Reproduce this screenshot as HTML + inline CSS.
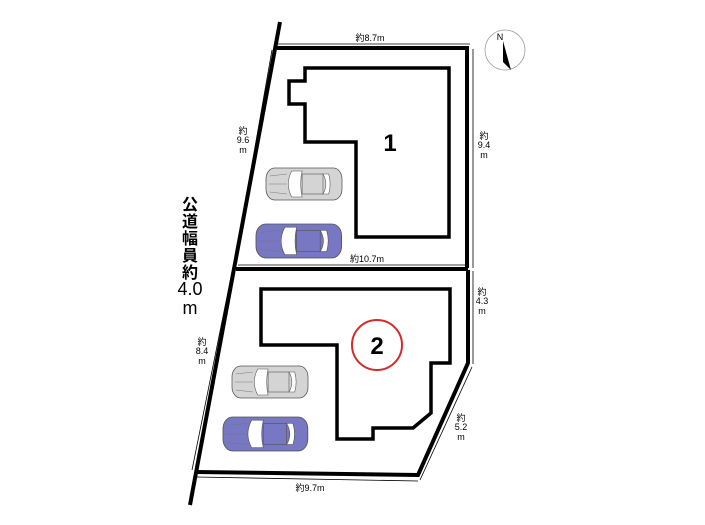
<!DOCTYPE html>
<html><head><meta charset="utf-8"><style>
html,body{margin:0;padding:0;background:#fff;width:705px;height:525px;overflow:hidden}
text{font-family:"Liberation Sans","Noto Sans CJK JP",sans-serif;fill:#000}
</style></head><body>
<svg width="705" height="525" viewBox="0 0 705 525" xmlns="http://www.w3.org/2000/svg">
<defs>
<g id="car">
<rect x="0" y="0" width="80" height="32" rx="9" ry="11" stroke="#555" stroke-width="0.8"/>
<path d="M27,3 Q20,16 27,29 L38,29 Q35,16 38,3 Z" fill="#fff" stroke="#555" stroke-width="0.6"/>
<rect x="38" y="6" width="22" height="20" stroke="#555" stroke-width="0.6"/>
<path d="M60,6 Q66,16 60,26 L66,26 Q69,16 66,6 Z" fill="#fff" stroke="#555" stroke-width="0.6"/>
<path d="M4,8 L22,6 M4,24 L22,26 M3,16 L22,16" stroke="#777" stroke-width="0.5" fill="none"/>
</g>
</defs>
<!-- road -->
<line x1="280" y1="22" x2="190" y2="505" stroke="#000" stroke-width="4"/>
<!-- lot outlines -->
<polyline points="277,48 467,48 467,268" fill="none" stroke="#000" stroke-width="4"/>
<line x1="236" y1="269" x2="468" y2="269" stroke="#000" stroke-width="4"/>
<polyline points="468,270 468,363 418,475 196,472" fill="none" stroke="#000" stroke-width="4"/>
<!-- buildings -->
<polygon points="305,68 449,68 449,237 356,237 356,142 305,142 305,104 289,104 289,81 305,81" fill="none" stroke="#000" stroke-width="3.5"/>
<polygon points="261,289 450,289 450,363 431,363 431,413 413,428 373,428 373,439 337,439 337,345 261,345" fill="none" stroke="#000" stroke-width="3.5"/>
<circle cx="377" cy="345" r="25" fill="none" stroke="#d42a2a" stroke-width="2"/>
<text x="390" y="151" font-size="24" font-weight="bold" text-anchor="middle">1</text>
<text x="377" y="354" font-size="24" font-weight="bold" text-anchor="middle">2</text>
<!-- cars -->
<use href="#car" transform="translate(266,168) scale(0.95,1)" fill="#d4d4d4"/>
<use href="#car" transform="translate(256,224) scale(1.07,1.06)" fill="#7777c4"/>
<use href="#car" transform="translate(232,366) scale(0.95,1)" fill="#d4d4d4"/>
<use href="#car" transform="translate(223,417) scale(1.06,1.06)" fill="#7777c4"/>
<!-- dimension lines -->
<g stroke="#000" stroke-width="0.8" fill="none">
<line x1="277" y1="44" x2="470" y2="44"/>
<line x1="473" y1="49" x2="473" y2="268"/>
<line x1="473" y1="271" x2="473" y2="364"/>
<line x1="472" y1="367" x2="420" y2="480"/>
<line x1="196" y1="477" x2="418" y2="481"/>
<line x1="272" y1="50" x2="234" y2="267"/>
<line x1="232" y1="272" x2="192" y2="470"/>
<line x1="238" y1="265" x2="467" y2="265"/>
</g>
<text x="370" y="41" font-size="9" text-anchor="middle">約8.7m</text>
<text x="367" y="262" font-size="9" text-anchor="middle">約10.7m</text>
<text x="310" y="491" font-size="9" text-anchor="middle">約9.7m</text>
<g font-size="9" text-anchor="middle">
<text x="243" y="134">約</text><text x="243" y="143">9.6</text><text x="243" y="153">m</text>
<text x="484" y="139">約</text><text x="484" y="148">9.4</text><text x="484" y="158">m</text>
<text x="482" y="295">約</text><text x="482" y="304">4.3</text><text x="482" y="314">m</text>
<text x="202" y="345">約</text><text x="202" y="354">8.4</text><text x="202" y="364">m</text>
<text x="461" y="421">約</text><text x="461" y="430">5.2</text><text x="461" y="440">m</text>
</g>
<g font-size="16" font-weight="bold" text-anchor="middle">
<text x="190" y="210">公</text><text x="190" y="227">道</text><text x="190" y="244">幅</text><text x="190" y="261">員</text><text x="190" y="278">約</text>
</g>
<text x="190" y="295" font-size="18" text-anchor="middle">4.0</text>
<text x="190" y="304" font-size="18" text-anchor="middle" dy="10">m</text>
<!-- compass -->
<circle cx="505" cy="50" r="20" fill="none" stroke="#999" stroke-width="0.8"/>
<text x="500" y="40" font-size="9" font-family="Liberation Serif" text-anchor="middle">N</text>
<polygon points="503,41 511,70 503,62" fill="#000"/>
</svg>
</body></html>
